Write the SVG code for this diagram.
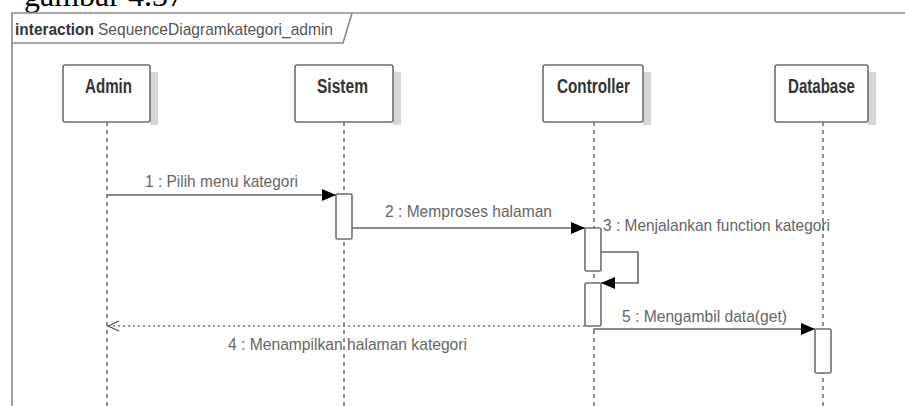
<svg xmlns="http://www.w3.org/2000/svg" width="905" height="406" viewBox="0 0 905 406">
  <style>
    .frame { fill: none; stroke: #8a8a8a; stroke-width: 1.6; }
    .head { fill: #fff; stroke: #6e6e6e; stroke-width: 1.6; }
    .shadow { fill: #d6d6d6; }
    .name { font-family: "Liberation Sans", Arial, sans-serif; font-size: 20px; font-weight: bold; fill: #333; }
    .life { stroke: #444; stroke-width: 1.2; stroke-dasharray: 4 4; fill: none; }
    .act { fill: #fff; stroke: #6e6e6e; stroke-width: 1.6; }
    .msg { stroke: #666; stroke-width: 1.6; fill: none; }
    .ret { stroke: #777; stroke-width: 1.4; stroke-dasharray: 2 3; fill: none; }
    .lbl { font-family: "Liberation Sans", Arial, sans-serif; font-size: 17px; fill: #666; }
    .cap { font-family: "Liberation Serif", "Times New Roman", serif; font-size: 32px; fill: #000; }
  </style>
  <defs>
    <marker id="solid" markerWidth="14" markerHeight="12" refX="14" refY="6" orient="auto" markerUnits="userSpaceOnUse">
      <path d="M0,0 L14,6 L0,12 Z" fill="#000"/>
    </marker>
    <marker id="open" markerWidth="14" markerHeight="12" refX="12" refY="6" orient="auto" markerUnits="userSpaceOnUse">
      <path d="M1,1 L12,6 L1,11" fill="none" stroke="#555" stroke-width="1.3"/>
    </marker>
  </defs>

  <rect width="905" height="406" fill="#fff"/>

  <!-- caption text above the frame, partly cut off by the top edge -->
  <text class="cap" x="24" y="6">gambar 4.37</text>

  <!-- interaction frame -->
  <g id="frame">
    <path class="frame" d="M12,406 L12,13 L905,13"/>
    <path class="frame" d="M12,43 L343,43 L352,13"/>
    <text x="15" y="35" font-family="'Liberation Sans', Arial, sans-serif" font-size="17" fill="#333"><tspan font-weight="bold" textLength="79" lengthAdjust="spacingAndGlyphs">interaction</tspan><tspan x="98" fill="#555" textLength="235" lengthAdjust="spacingAndGlyphs">SequenceDiagramkategori_admin</tspan></text>
  </g>

  <!-- lifelines -->
  <g id="admin">
    <rect class="shadow" x="150" y="72" width="8" height="53"/>
    <line class="life" x1="107" y1="122" x2="107" y2="406"/>
    <rect class="head" x="63" y="65" width="87" height="57" rx="2"/>
    <text class="name" x="85" y="93" textLength="47" lengthAdjust="spacingAndGlyphs">Admin</text>
  </g>

  <g id="sistem">
    <rect class="shadow" x="393" y="72" width="8" height="53"/>
    <line class="life" x1="344" y1="122" x2="344" y2="406"/>
    <rect class="head" x="295" y="65" width="98" height="57" rx="2"/>
    <text class="name" x="317" y="93" textLength="51" lengthAdjust="spacingAndGlyphs">Sistem</text>
    <rect class="act" x="336" y="194" width="16" height="45" rx="1.5"/>
  </g>

  <g id="controller">
    <rect class="shadow" x="643" y="72" width="8" height="53"/>
    <line class="life" x1="594" y1="122" x2="594" y2="406"/>
    <rect class="head" x="543" y="65" width="100" height="57" rx="2"/>
    <text class="name" x="557" y="93" textLength="73" lengthAdjust="spacingAndGlyphs">Controller</text>
    <rect class="act" x="585" y="228" width="16" height="43" rx="1.5"/>
    <rect class="act" x="585" y="283" width="16" height="43" rx="1.5"/>
  </g>

  <g id="database">
    <rect class="shadow" x="868" y="72" width="8" height="53"/>
    <line class="life" x1="823" y1="122" x2="823" y2="406"/>
    <rect class="head" x="775" y="65" width="93" height="57" rx="2"/>
    <text class="name" x="788" y="93" textLength="67" lengthAdjust="spacingAndGlyphs">Database</text>
    <rect class="act" x="815" y="329" width="16" height="44" rx="1.5"/>
  </g>

  <!-- messages -->
  <g id="connectors">
    <line class="msg" x1="107" y1="195" x2="336" y2="195" marker-end="url(#solid)"/>
    <text class="lbl" x="145" y="187" textLength="153" lengthAdjust="spacingAndGlyphs">1 : Pilih menu kategori</text>

    <line class="msg" x1="352" y1="228" x2="585" y2="228" marker-end="url(#solid)"/>
    <text class="lbl" x="385" y="217" textLength="167" lengthAdjust="spacingAndGlyphs">2 : Memproses halaman</text>

    <polyline class="msg" points="601,252 638,252 638,283 601,283" marker-end="url(#solid)"/>
    <text class="lbl" x="603" y="231" textLength="227" lengthAdjust="spacingAndGlyphs">3 : Menjalankan function kategori</text>

    <line class="ret" x1="585" y1="326" x2="108" y2="326" marker-end="url(#open)"/>
    <text class="lbl" x="228" y="350" textLength="239" lengthAdjust="spacingAndGlyphs">4 : Menampilkan halaman kategori</text>

    <line class="msg" x1="593" y1="329" x2="815" y2="329" marker-end="url(#solid)"/>
    <text class="lbl" x="622" y="322" textLength="165" lengthAdjust="spacingAndGlyphs">5 : Mengambil data(get)</text>
  </g>
</svg>
